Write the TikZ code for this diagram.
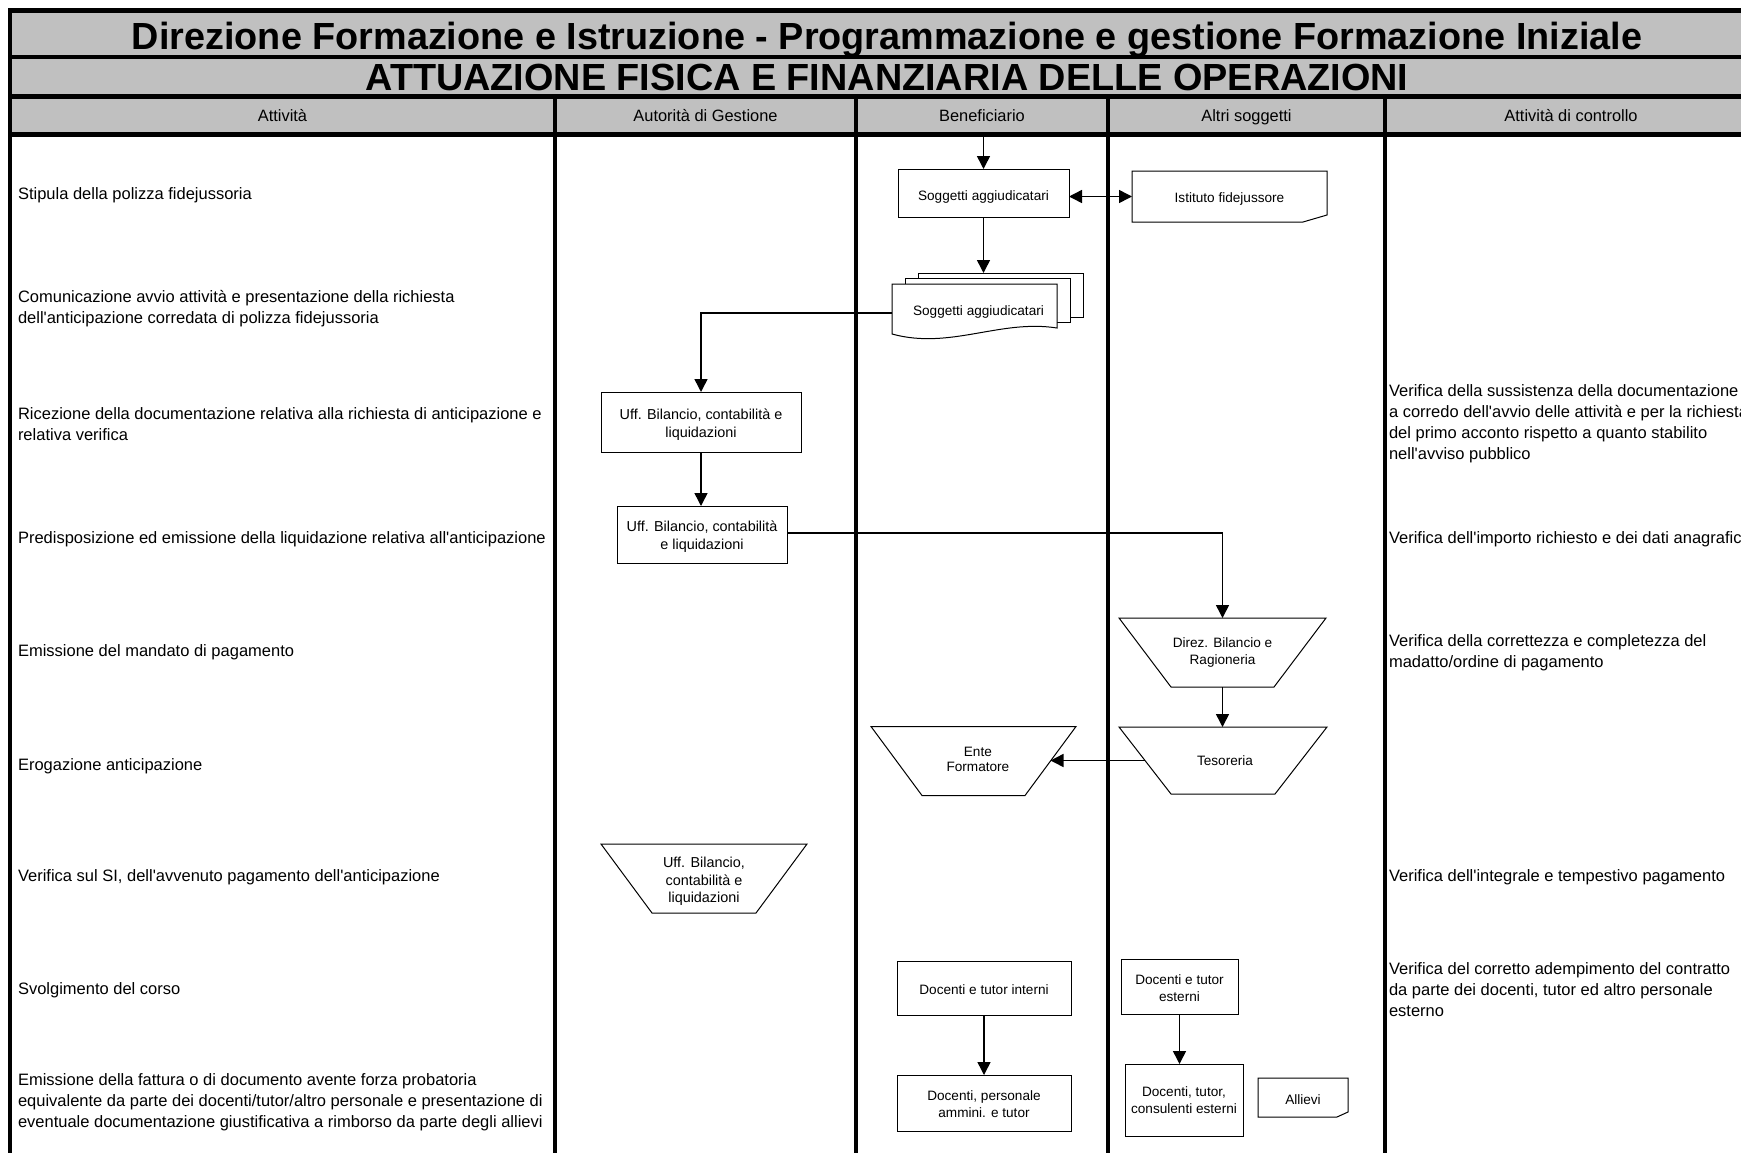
\documentclass[tikz,border=0pt]{standalone}
\usepackage{fontspec}
\setmainfont{Liberation Sans}[Ligatures=TeXOff]
\usetikzlibrary{arrows.meta,calc}
\definecolor{bandgray}{RGB}{192,192,192}
\tikzset{
  every node/.style={inner sep=0pt, outer sep=0pt},
  bodytxt/.style={anchor=west, align=left, font=\fontsize{16.5}{21}\selectfont},
  headtxt/.style={anchor=base, font=\fontsize{16.4}{20}\selectfont},
  titletxt/.style={anchor=base, font=\fontsize{37.8}{40}\selectfont\bfseries},
  boxtxt/.style={align=center, font=\fontsize{13.6}{17}\selectfont},
  ufftxt/.style={align=center, font=\fontsize{14.4}{17.5}\selectfont},
  thinline/.style={line width=1pt},
  rectbox/.style={draw, line width=1pt, fill=white},
  conn/.style={line width=1.5pt, -{Triangle[length=13pt,width=13pt]}},
  dconn/.style={line width=1.5pt, {Triangle[length=13pt,width=13pt]}-{Triangle[length=13pt,width=13pt]}},
  frameline/.style={line width=4.3pt},
  divline/.style={line width=4.5pt},
}
\begin{document}
\begin{tikzpicture}[x=1pt,y=-1pt]
\useasboundingbox (0,0) rectangle (1741,1152);
% bands
\fill[bandgray] (10,10.5) rectangle (1765,134);
\draw[frameline] (8,10.5) -- (1765,10.5);
\draw[frameline] (8,57.2) -- (1765,57.2);
\draw[frameline] (8,96.5) -- (1765,96.5);
\draw[line width=5pt] (8,134) -- (1765,134);
\draw[frameline] (10,8.5) -- (10,1160);
\foreach \x in {555,856,1108,1385} \draw[divline] (\x,96.5) -- (\x,1160);

% titles
\node[titletxt] (t1) at (887,49.2) {Direzione Formazione e Istruzione - Programmazione e gestione Formazione Iniziale};
\node[titletxt] (t2) at (887,90.5) {ATTUAZIONE FISICA E FINANZIARIA DELLE OPERAZIONI};

% column headers
\node[headtxt] (h1) at (282.5,121.5) {Attività};
\node[headtxt] (h2) at (705.5,121.5) {Autorità di Gestione};
\node[headtxt] (h3) at (982,121.5) {Beneficiario};
\node[headtxt] (h4) at (1246.5,121.5) {Altri soggetti};
\node[headtxt] (h5) at (1571,121.5) {Attività di controllo};

% activities
\node[bodytxt] (a1) at (18,195.2) {Stipula della polizza fidejussoria};
\node[bodytxt] (a2) at (18,308.2) {Comunicazione avvio attività e presentazione della richiesta\\dell'anticipazione corredata di polizza fidejussoria};
\node[bodytxt] (a3) at (18,423.7) {Ricezione della documentazione relativa alla richiesta di anticipazione e\\relativa verifica};
\node[bodytxt] (a4) at (18,539.7) {Predisposizione ed emissione della liquidazione relativa all'anticipazione};
\node[bodytxt] (a5) at (18,652.7) {Emissione del mandato di pagamento};
\node[bodytxt] (a6) at (18,766.2) {Erogazione anticipazione};
\node[bodytxt] (a7) at (18,877.2) {Verifica sul SI, dell'avvenuto pagamento dell'anticipazione};
\node[bodytxt] (a8) at (18,990.2) {Svolgimento del corso};
\node[bodytxt] (a9) at (18,1102.2) {Emissione della fattura o di documento avente forza probatoria\\equivalente da parte dei docenti/tutor/altro personale e presentazione di\\eventuale documentazione giustificativa a rimborso da parte degli allievi};

% controls
\node[bodytxt] (c1) at (1389,424) {Verifica della sussistenza della documentazione\\a corredo dell'avvio delle attività e per la richiesta\\del primo acconto rispetto a quanto stabilito\\nell'avviso pubblico};
\node[bodytxt] (c2) at (1389,539.5) {Verifica dell'importo richiesto e dei dati anagrafici};
\node[bodytxt] (c3) at (1389,652.5) {Verifica della correttezza e completezza del\\madatto/ordine di pagamento};
\node[bodytxt] (c4) at (1389,877) {Verifica dell'integrale e tempestivo pagamento};
\node[bodytxt] (c5) at (1389,989.5) {Verifica del corretto adempimento del contratto\\da parte dei docenti, tutor ed altro personale\\esterno};

% Beneficiario: Soggetti aggiudicatari
\coordinate (hb) at (983.5,136.5);
\node[rectbox, minimum width=171pt, minimum height=48pt] (sogg1) at (983.5,193) {};
\node[boxtxt, yshift=-4pt] (sogg1t) at (sogg1) {Soggetti aggiudicatari};
\draw[conn] (hb) -- (sogg1.north);

% Istituto fidejussore (card)
\node[minimum width=195pt, minimum height=51pt] (ist) at (1229.5,196.5) {};
\draw[thinline] (ist.north west) -- (ist.north east) -- ([yshift=7pt]ist.south east) -- ([xshift=-24pt]ist.south east) -- (ist.south west) -- cycle;
\node[boxtxt, yshift=-2pt] (istt) at (ist) {Istituto fidejussore};
\draw[dconn] (sogg1.east |- ist.west) -- (ist.west);

% multi-document
\node[rectbox, minimum width=165pt, minimum height=44pt] (pg3) at (1000.5,295) {};
\node[rectbox, minimum width=165pt, minimum height=44pt] (pg2) at (987.5,300.5) {};
\node[minimum width=165pt, minimum height=50pt] (sogg2) at (974.5,309) {};
\draw[thinline, fill=white] (sogg2.north west) -- (sogg2.north east) -- ([yshift=6pt]sogg2.south east)
  .. controls ([xshift=-57pt,yshift=15pt]sogg2.south east) and ([xshift=58pt,yshift=-16pt]sogg2.south west) .. (sogg2.south west) -- cycle;
\node[boxtxt, xshift=4pt, yshift=-3pt] (sogg2t) at (sogg2) {Soggetti aggiudicatari};
\draw[conn] (sogg1.south) -- (sogg1.south |- pg3.north);

% Autorita di gestione
\node[rectbox, minimum width=200pt, minimum height=60pt] (uff1) at (701,422) {};
\node[ufftxt, yshift=-2.5pt] (uff1t) at (uff1) {Uff. Bilancio, contabilità e\\liquidazioni};
\draw[conn] ([yshift=-4pt]sogg2.west) -| (uff1.north);
\node[rectbox, minimum width=170pt, minimum height=57pt] (uff2) at (702,534.5) {};
\node[ufftxt, yshift=-2pt] (uff2t) at (uff2) {Uff. Bilancio, contabilità\\e liquidazioni};
\draw[conn] (uff1.south) -- (uff1.south |- uff2.north);

% Direz. Bilancio e Ragioneria
\node[boxtxt, minimum width=207pt, minimum height=69pt] (direz) at (1222.5,652.5) {Direz. Bilancio e\\Ragioneria};
\draw[thinline] (direz.north west) -- (direz.north east) -- ([xshift=-52pt]direz.south east) -- ([xshift=52pt]direz.south west) -- cycle;
\draw[conn] ([yshift=1.5pt]uff2.east) -| (direz.north);

% Tesoreria
\node[minimum width=208pt, minimum height=67pt] (tes) at (1223,760.5) {};
\draw[thinline] (tes.north west) -- (tes.north east) -- ([xshift=-52pt]tes.south east) -- ([xshift=52pt]tes.south west) -- cycle;
\node[boxtxt, xshift=2pt] (test) at (tes) {Tesoreria};
\draw[conn] (direz.south) -- (direz.south |- tes.north);

% Ente Formatore
\node[minimum width=205pt, minimum height=69pt] (ente) at (973.5,761) {};
\draw[thinline] (ente.north west) -- (ente.north east) -- ([xshift=-51pt]ente.south east) -- ([xshift=51pt]ente.south west) -- cycle;
\node[align=center, font=\fontsize{13.6}{15.5}\selectfont, xshift=4.4pt, yshift=1.5pt] (entet) at (ente) {Ente\\Formatore};
\coordinate (ente-r) at ($(ente.north east)!0.5!([xshift=-51pt]ente.south east)$);
\coordinate (tes-l) at ($(tes.north west)!0.5!([xshift=52pt]tes.south west)$);
\draw[conn] (tes-l) -- (tes-l -| ente-r);

% Uff. trapezoid row 7
\node[minimum width=206pt, minimum height=69pt] (uff3) at (704,878.5) {};
\draw[thinline] (uff3.north west) -- (uff3.north east) -- ([xshift=-51pt]uff3.south east) -- ([xshift=51pt]uff3.south west) -- cycle;
\node[ufftxt, yshift=-2.8pt] (uff3t) at (uff3) {Uff. Bilancio,\\contabilità e\\liquidazioni};

% Docenti
\node[rectbox, minimum width=174pt, minimum height=54pt] (dti) at (984,988) {};
\node[boxtxt, yshift=-2pt] (dtit) at (dti) {Docenti e tutor interni};
\node[rectbox, minimum width=174pt, minimum height=56pt] (dpa) at (984,1103) {};
\node[boxtxt, yshift=-1pt] (dpat) at (dpa) {Docenti, personale\\ammini. e tutor};
\draw[conn] (dti.south) -- (dti.south |- dpa.north);
\node[rectbox, minimum width=117pt, minimum height=55pt] (dte) at (1179.5,986.5) {};
\node[boxtxt, yshift=-1.5pt] (dtet) at (dte) {Docenti e tutor\\esterni};
\node[rectbox, minimum width=118pt, minimum height=72pt] (dtc) at (1184,1100) {};
\node[boxtxt] (dtct) at (dtc) {Docenti, tutor,\\consulenti esterni};
\draw[conn] (dte.south) -- (dte.south |- dtc.north);

% Allievi (card)
\node[minimum width=90pt, minimum height=39pt] (all) at (1303,1097.5) {};
\draw[thinline] (all.north west) -- (all.north east) -- ([yshift=5pt]all.south east) -- ([xshift=-11pt]all.south east) -- (all.south west) -- cycle;
\node[boxtxt, yshift=-2pt] (allt) at (all) {Allievi};
\end{tikzpicture}
\end{document}
